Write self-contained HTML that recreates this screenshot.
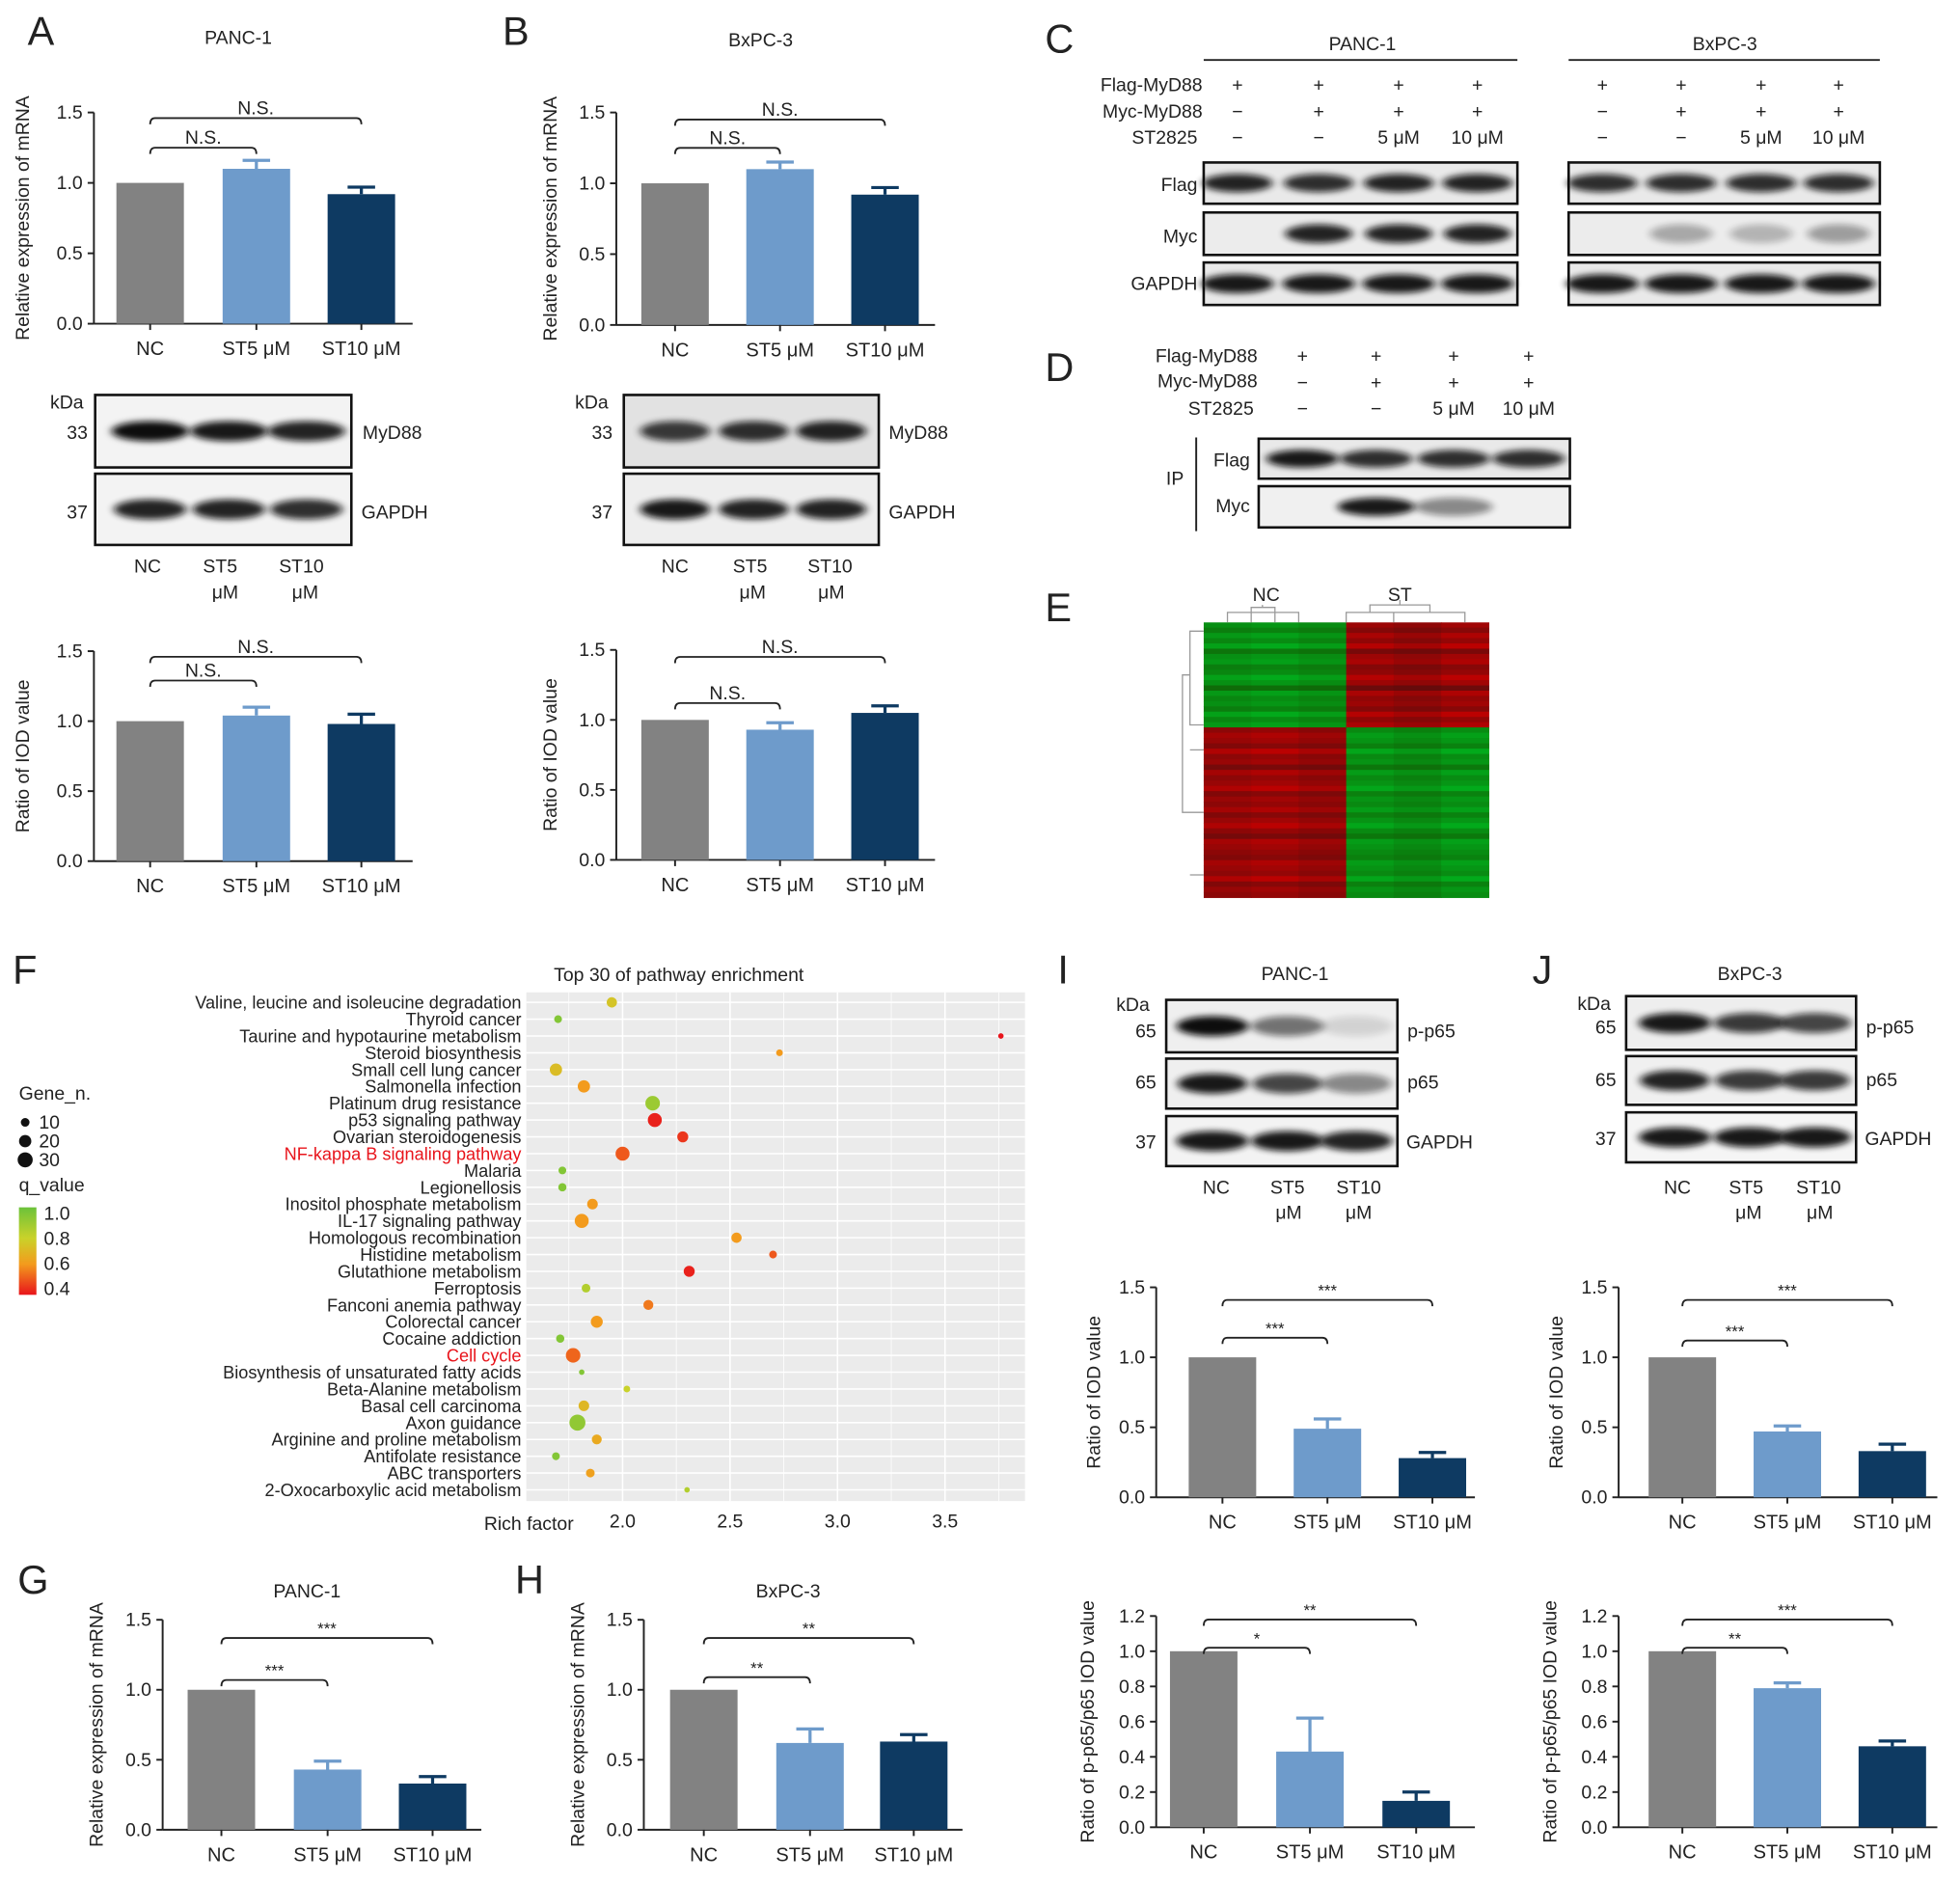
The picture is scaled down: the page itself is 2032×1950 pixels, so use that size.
<!DOCTYPE html>
<html><head><meta charset="utf-8"><style>
html,body{margin:0;padding:0;background:#fff}
svg{display:block}
text{font-family:"Liberation Sans",Arial,sans-serif}
</style></head><body>
<svg id="fig" xmlns="http://www.w3.org/2000/svg" width="2032" height="1950" viewBox="0 0 1568 1505" fill="#222">
<defs>
<filter id="blur" x="-50%" y="-100%" width="200%" height="300%"><feGaussianBlur stdDeviation="3.2 2.4"/></filter>
<linearGradient id="qgrad" x1="0" y1="0" x2="0" y2="1"><stop offset="0" stop-color="#6cc23a"/><stop offset="0.35" stop-color="#c9d22a"/><stop offset="0.65" stop-color="#f39b1d"/><stop offset="1" stop-color="#e8141b"/></linearGradient>
</defs>
<g font-size="32">
<text x="22" y="36">A</text><text x="402" y="36">B</text><text x="836" y="42">C</text><text x="836" y="305">D</text><text x="836" y="497">E</text><text x="10" y="787">F</text><text x="14" y="1275">G</text><text x="412" y="1275">H</text><text x="846" y="787">I</text><text x="1226" y="787">J</text>
</g>
<g id="charts"></g>
</svg>
<script>
const NS='http://www.w3.org/2000/svg';
const svg=document.getElementById('charts');
function mk(tag,attrs,parent,txt){const e=document.createElementNS(NS,tag);for(const k in attrs)e.setAttribute(k,attrs[k]);if(txt!==undefined)e.textContent=txt;(parent||svg).appendChild(e);return e;}

// ===== bar chart data =====
const barCats=['NC','ST5 μM','ST10 μM'];
const barColors=['#828282','#6e9bcb','#0e3a62'];
const aMrnaVals=[1.0,1.10,0.92]; const aMrnaErr=[0,0.06,0.05];
const bMrnaVals=[1.0,1.10,0.92]; const bMrnaErr=[0,0.05,0.05];
const aIodVals=[1.0,1.04,0.98]; const aIodErr=[0,0.06,0.07];
const bIodVals=[1.0,0.93,1.05]; const bIodErr=[0,0.05,0.05];
const gMrnaVals=[1.0,0.43,0.33]; const gMrnaErr=[0,0.06,0.05];
const hMrnaVals=[1.0,0.62,0.63]; const hMrnaErr=[0,0.10,0.05];
const iIodVals=[1.0,0.49,0.28]; const iIodErr=[0,0.07,0.04];
const jIodVals=[1.0,0.47,0.33]; const jIodErr=[0,0.04,0.05];
const iRatioVals=[1.0,0.43,0.15]; const iRatioErr=[0,0.19,0.05];
const jRatioVals=[1.0,0.79,0.46]; const jRatioErr=[0,0.03,0.03];
const ticks15=[0,0.5,1.0,1.5];
const ticks12=[0,0.2,0.4,0.6,0.8,1.0,1.2];

function barChart(name,c){
  const g=mk('g',{});
  
  
  const yS=v=>c.y0-(v/c.max)*(c.y0-c.yt);
  const cx=i=>c.ax+c.off[i];
  const ax=mk('line',{x1:c.ax,y1:c.yt,x2:c.ax,y2:c.y0,stroke:'#222','stroke-width':1.5},g);
  
  
  const xa=mk('line',{x1:c.ax,y1:c.y0,x2:c.ax+c.xlen,y2:c.y0,stroke:'#222','stroke-width':1.5},g);
  
  
  c.ticks.forEach(t=>{
    const y=yS(t);
    mk('line',{x1:c.ax-5,y1:y,x2:c.ax,y2:y,stroke:'#222','stroke-width':1.5},g);
    const tl=mk('text',{x:c.ax-9,y:y+5,'text-anchor':'end','font-size':15},g,t.toFixed(1));
    
    
  });
  c.vals.forEach((v,i)=>{
    const x=cx(i),w=54;
    const r=mk('rect',{x:x-w/2,y:yS(v),width:w,height:yS(0)-yS(v),fill:barColors[i]},g);
    
    
    if(c.err[i]>0){
      const ey=yS(v+c.err[i]);
      const eb=mk('path',{d:`M${x} ${yS(v)}V${ey}M${x-11} ${ey}H${x+11}`,stroke:barColors[i],'stroke-width':2.5,fill:'none'},g);
      
      
    }
    mk('line',{x1:x,y1:c.y0,x2:x,y2:c.y0+5,stroke:'#222','stroke-width':1.5},g);
    const xl=mk('text',{x:x,y:c.y0+25,'text-anchor':'middle','font-size':15.5},g,barCats[i]);
    
    
  });
  c.br.forEach(b=>{
    const y=yS(b[2]),x1=cx(b[0]),x2=cx(b[1]);
    const p=mk('path',{d:`M${x1} ${y+5}Q${x1} ${y} ${x1+4} ${y}H${x2-4}Q${x2} ${y} ${x2} ${y+5}`,stroke:'#222','stroke-width':1.4,fill:'none'},g);
    
    
    const t=mk('text',{x:(x1+x2)/2,y:y-3,'text-anchor':'middle','font-size':b[3]==='N.S.'?15:13},g,b[3]);
    
    
  });
  const yt=mk('text',{transform:`translate(${c.ax-c.tdx},${(c.y0+c.yt)/2}) rotate(-90)`,'text-anchor':'middle','font-size':15},g,c.ytitle);
  
  
  if(c.title){
    const tt=mk('text',{x:c.ax+c.xlen/2-12,y:c.titleY,'text-anchor':'middle','font-size':15},g,c.title);
    
    
  }
}
const OFF=[45,130,214];
barChart('panel-a-mrna-chart',{ax:75,y0:259,yt:90,max:1.5,xlen:255,off:OFF,ticks:ticks15,vals:aMrnaVals,err:aMrnaErr,br:[[0,1,1.25,'N.S.'],[0,2,1.46,'N.S.']],ytitle:'Relative expression of mRNA',tdx:52,title:'PANC-1',titleY:35});
barChart('panel-b-mrna-chart',{ax:493,y0:260,yt:90,max:1.5,xlen:255,off:[47,131,215],ticks:ticks15,vals:bMrnaVals,err:bMrnaErr,br:[[0,1,1.25,'N.S.'],[0,2,1.45,'N.S.']],ytitle:'Relative expression of mRNA',tdx:48,title:'BxPC-3',titleY:37});
barChart('panel-a-iod-chart',{ax:75,y0:689,yt:521,max:1.5,xlen:255,off:OFF,ticks:ticks15,vals:aIodVals,err:aIodErr,br:[[0,1,1.29,'N.S.'],[0,2,1.46,'N.S.']],ytitle:'Ratio of IOD value',tdx:52});
barChart('panel-b-iod-chart',{ax:493,y0:688,yt:520,max:1.5,xlen:255,off:[47,131,215],ticks:ticks15,vals:bIodVals,err:bIodErr,br:[[0,1,1.12,'N.S.'],[0,2,1.45,'N.S.']],ytitle:'Ratio of IOD value',tdx:48});
barChart('panel-g-mrna-chart',{ax:130,y0:1464,yt:1296,max:1.5,xlen:255,off:[47,132,216],ticks:ticks15,vals:gMrnaVals,err:gMrnaErr,br:[[0,1,1.07,'***'],[0,2,1.37,'***']],ytitle:'Relative expression of mRNA',tdx:48,title:'PANC-1',titleY:1278});
barChart('panel-h-mrna-chart',{ax:515,y0:1464,yt:1296,max:1.5,xlen:255,off:[48,133,216],ticks:ticks15,vals:hMrnaVals,err:hMrnaErr,br:[[0,1,1.09,'**'],[0,2,1.37,'**']],ytitle:'Relative expression of mRNA',tdx:48,title:'BxPC-3',titleY:1278});
barChart('panel-i-iod-chart',{ax:925,y0:1198,yt:1030,max:1.5,xlen:255,off:[53,137,221],ticks:ticks15,vals:iIodVals,err:iIodErr,br:[[0,1,1.14,'***'],[0,2,1.41,'***']],ytitle:'Ratio of IOD value',tdx:45});
barChart('panel-j-iod-chart',{ax:1295,y0:1198,yt:1030,max:1.5,xlen:255,off:[51,135,219],ticks:ticks15,vals:jIodVals,err:jIodErr,br:[[0,1,1.12,'***'],[0,2,1.41,'***']],ytitle:'Ratio of IOD value',tdx:45});
barChart('panel-i-ratio-chart',{ax:925,y0:1462,yt:1293,max:1.2,xlen:255,off:[38,123,208],ticks:ticks12,vals:iRatioVals,err:iRatioErr,br:[[0,1,1.02,'*'],[0,2,1.18,'**']],ytitle:'Ratio of p-p65/p65 IOD value',tdx:50});
barChart('panel-j-ratio-chart',{ax:1295,y0:1462,yt:1293,max:1.2,xlen:255,off:[51,135,219],ticks:ticks12,vals:jRatioVals,err:jRatioErr,br:[[0,1,1.02,'**'],[0,2,1.18,'***']],ytitle:'Ratio of p-p65/p65 IOD value',tdx:50});

// ===== blots =====
function txt(x,y,s,size,anchor,name,fill){const t=mk('text',{x:x,y:y,'font-size':size||15,'text-anchor':anchor||'start',fill:fill||'#222'},svg,s);

return t;}
function blot(name,x,y,w,h,lanes,intens,bw,bg){
  const g=mk('g',{});
  
  
  const r=mk('rect',{x:x,y:y,width:w,height:h,fill:bg||'#e9e9e9',stroke:'#111','stroke-width':2},g);
  
  
  lanes.forEach((cx,i)=>{if(intens[i]<=0)return;
    const e=mk('ellipse',{cx:cx,cy:y+h/2,rx:(bw||24)+3,ry:Math.min(h*0.22,8),fill:'#0a0a0a',opacity:intens[i],filter:'url(#blur)'},g);
    
    
  });
}
// A
txt(40,327,'kDa',15,'start','kda-label');txt(70,351,'33',15,'end');txt(70,415,'37',15,'end');
blot('panel-a-myd88-blot',76,316,205,58,[120,183,245],[1,0.95,0.9],28,'#f3f3f3');
blot('panel-a-gapdh-blot',76,379,205,57,[120,183,245],[0.9,0.9,0.85],26,'#f3f3f3');
txt(290,351,'MyD88');txt(289,415,'GAPDH');
txt(118,458,'NC',15,'middle');txt(176,458,'ST5',15,'middle');txt(180,479,'μM',15,'middle');txt(241,458,'ST10',15,'middle');txt(244,479,'μM',15,'middle');
// B
txt(460,327,'kDa');txt(490,351,'33',15,'end');txt(490,415,'37',15,'end');
blot('panel-b-myd88-blot',499,316,204,58,[540,603,665],[0.8,0.85,0.9],25,'#e2e2e2');
blot('panel-b-gapdh-blot',499,379,204,57,[540,603,665],[0.95,0.9,0.9],25,'#eeeeee');
txt(711,351,'MyD88');txt(711,415,'GAPDH');
txt(540,458,'NC',15,'middle');txt(600,458,'ST5',15,'middle');txt(602,479,'μM',15,'middle');txt(664,458,'ST10',15,'middle');txt(665,479,'μM',15,'middle');
// C
txt(1090,40,'PANC-1',15,'middle');txt(1380,40,'BxPC-3',15,'middle');
mk('line',{x1:963,y1:48,x2:1214,y2:48,stroke:'#222','stroke-width':1.5});
mk('line',{x1:1255,y1:48,x2:1504,y2:48,stroke:'#222','stroke-width':1.5});
txt(962,73,'Flag-MyD88',15,'end');txt(962,94,'Myc-MyD88',15,'end');txt(958,115,'ST2825',15,'end');
const cSigns=[['+','+','+','+'],['−','+','+','+'],['−','−','5 μM','10 μM']];
[[990,1055,1119,1182],[1282,1345,1409,1471]].forEach(L=>{cSigns.forEach((row,r)=>row.forEach((s,i)=>txt(L[i],73+21*r,s,15,'middle','treatment-sign')));});
txt(958,153,'Flag',15,'end');txt(958,194,'Myc',15,'end');txt(958,232,'GAPDH',15,'end');
blot('panel-c-panc-flag',963,130,251,33,[990,1055,1119,1182],[0.9,0.85,0.9,0.9],25);
blot('panel-c-panc-myc',963,170,251,34,[990,1055,1119,1182],[0,0.9,0.9,0.9],24,'#ececec');
blot('panel-c-panc-gapdh',963,210,251,34,[990,1055,1119,1182],[0.95,0.95,0.95,0.95],26);
blot('panel-c-bx-flag',1255,130,249,33,[1282,1345,1409,1471],[0.85,0.85,0.85,0.85],25);
blot('panel-c-bx-myc',1255,170,249,34,[1282,1345,1409,1471],[0,0.3,0.25,0.35],22,'#ececec');
blot('panel-c-bx-gapdh',1255,210,249,34,[1282,1345,1409,1471],[0.95,0.95,0.95,0.95],26);
// D
txt(1006,290,'Flag-MyD88',15,'end');txt(1006,310,'Myc-MyD88',15,'end');txt(1003,332,'ST2825',15,'end');
const dL=[1042,1101,1163,1223];
cSigns.forEach((row,r)=>row.forEach((s,i)=>txt(dL[i],290+21*r,s,15,'middle','treatment-sign')));
txt(940,388,'IP',15,'middle');mk('line',{x1:957,y1:350,x2:957,y2:425,stroke:'#222','stroke-width':1.5});
txt(1000,373,'Flag',15,'end');txt(1000,410,'Myc',15,'end');
blot('panel-d-flag',1007,351,249,32,dL,[0.95,0.85,0.85,0.85],26);
blot('panel-d-myc',1007,389,249,33,dL,[0,0.95,0.45,0],28,'#f0f0f0');
// I
txt(1036,784,'PANC-1',15,'middle');
txt(893,809,'kDa');txt(925,830,'65',15,'end');txt(925,871,'65',15,'end');txt(925,919,'37',15,'end');
blot('panel-i-pp65',933,800,185,42,[970,1030,1085],[1,0.55,0.12],26,'#efefef');
blot('panel-i-p65',933,847,185,40,[970,1030,1085],[0.95,0.75,0.45],25,'#efefef');
blot('panel-i-gapdh',933,893,185,40,[970,1030,1085],[0.95,0.95,0.9],26,'#f3f3f3');
txt(1126,830,'p-p65');txt(1126,871,'p65');txt(1125,919,'GAPDH');
txt(973,955,'NC',15,'middle');txt(1030,955,'ST5',15,'middle');txt(1031,975,'μM',15,'middle');txt(1087,955,'ST10',15,'middle');txt(1087,975,'μM',15,'middle');
// J
txt(1400,784,'BxPC-3',15,'middle');
txt(1262,808,'kDa');txt(1293,827,'65',15,'end');txt(1293,869,'65',15,'end');txt(1293,916,'37',15,'end');
blot('panel-j-pp65',1301,797,184,43,[1340,1400,1452],[0.95,0.8,0.75],26,'#eeeeee');
blot('panel-j-p65',1301,845,184,39,[1340,1400,1452],[0.9,0.8,0.8],25,'#f0f0f0');
blot('panel-j-gapdh',1301,890,184,40,[1340,1400,1452],[0.95,0.95,0.95],26,'#f5f5f5');
txt(1493,827,'p-p65');txt(1493,869,'p65');txt(1492,916,'GAPDH');
txt(1342,955,'NC',15,'middle');txt(1397,955,'ST5',15,'middle');txt(1399,975,'μM',15,'middle');txt(1455,955,'ST10',15,'middle');txt(1456,975,'μM',15,'middle');

// ===== E heatmap =====
const hmTopRows=[0.7,0.5,0.8,0.6,0.9,0.4,0.7,0.8,0.5,0.6,0.9,0.7,0.3,0.8,0.6,0.7,0.5,0.9,0.6,0.8];
const hmBotRows=[0.6,0.8,0.7,0.5,0.9,0.6,0.7,0.4,0.8,0.6,0.7,0.9,0.5,0.7,0.6,0.8,0.5,0.7,0.9,0.6,0.4,0.8,0.7,0.6,0.5,0.8,0.7,0.6,0.9,0.5,0.7,0.6];
const hmColMod=[0.9,1.0,0.85,0.95,0.8,1.0];
(function(){
  const g=mk('g',{});
  
  
  const x0=963,cw=38,y0=498,rhT=84/hmTopRows.length,rhB=136/hmBotRows.length;
  const col=(v,green)=>green?`rgb(${Math.round(20*(1-v))},${Math.round(80+100*v)},${Math.round(30*v)})`:`rgb(${Math.round(70+130*v)},${Math.round(15*(1-v))},${Math.round(15*(1-v))})`;
  hmTopRows.forEach((v,r)=>hmColMod.forEach((m,c)=>{const cell=mk('rect',{x:x0+c*cw,y:y0+r*rhT,width:cw+0.5,height:rhT+0.5,fill:col(v*m,c<3)},g);
    
    }));
  hmBotRows.forEach((v,r)=>hmColMod.forEach((m,c)=>{const cell=mk('rect',{x:x0+c*cw,y:y0+84+r*rhB,width:cw+0.5,height:rhB+0.5,fill:col(v*m,c>=3)},g);
    
    }));
  mk('path',{d:'M982 498V490H1039V498M1001 490V486H1020V490M1010 486V484M1001 498V490M1020 498V490M1077 498V490H1172V498M1115 498V490M1096 490V484H1144V490M1120 484V480',stroke:'#999',fill:'none','stroke-width':1},g);
  mk('path',{d:'M963 505H952V580H963M952 540H946V650H952M952 600H963M952 700H963M963 650H952',stroke:'#999',fill:'none','stroke-width':1},g);
  txt(1013,481,'NC',15,'middle');txt(1120,481,'ST',15,'middle');
})();

// ===== F dot plot =====
const pathways=['Valine, leucine and isoleucine degradation','Thyroid cancer','Taurine and hypotaurine metabolism','Steroid biosynthesis','Small cell lung cancer','Salmonella infection','Platinum drug resistance','p53 signaling pathway','Ovarian steroidogenesis','NF-kappa B signaling pathway','Malaria','Legionellosis','Inositol phosphate metabolism','IL-17 signaling pathway','Homologous recombination','Histidine metabolism','Glutathione metabolism','Ferroptosis','Fanconi anemia pathway','Colorectal cancer','Cocaine addiction','Cell cycle','Biosynthesis of unsaturated fatty acids','Beta-Alanine metabolism','Basal cell carcinoma','Axon guidance','Arginine and proline metabolism','Antifolate resistance','ABC transporters','2-Oxocarboxylic acid metabolism'];
const richFactor=[1.95,1.70,3.76,2.73,1.69,1.82,2.14,2.15,2.28,2.00,1.72,1.72,1.86,1.81,2.53,2.70,2.31,1.83,2.12,1.88,1.71,1.77,1.81,2.02,1.82,1.79,1.88,1.69,1.85,2.30];
const geneN=[14,8,4,6,20,20,28,26,16,26,8,9,15,26,14,8,16,10,13,19,9,28,4,6,15,34,13,8,10,4];
const qValue=[0.75,0.95,0.4,0.6,0.72,0.6,0.9,0.42,0.45,0.5,0.95,0.95,0.6,0.6,0.6,0.5,0.42,0.85,0.55,0.6,0.95,0.52,0.95,0.8,0.7,0.92,0.65,0.95,0.62,0.85];
const highlighted=['NF-kappa B signaling pathway','Cell cycle'];
const rfTicks=[2.0,2.5,3.0,3.5];
(function(){
  const g=mk('g',{});
  
  
  const X=rf=>498+(rf-2)*172, Y=i=>802+i*13.45;
  const bg=mk('rect',{x:421,y:794,width:399,height:407,fill:'#ebebeb'},g);
  
  
  pathways.forEach((p,i)=>mk('line',{x1:421,x2:820,y1:Y(i),y2:Y(i),stroke:'#fff','stroke-width':1.2},g));
  for(let v=1.75;v<=3.76;v+=0.25)mk('line',{x1:X(v),x2:X(v),y1:794,y2:1201,stroke:'#fff','stroke-width':v*4%2===0?1.2:0.6},g);
  const qc=q=>{const stops=[[0.4,[232,20,27]],[0.6,[243,155,29]],[0.8,[201,210,42]],[1.0,[108,194,58]]];q=Math.max(0.4,Math.min(1,q));for(let k=0;k<3;k++){const a=stops[k],b=stops[k+1];if(q<=b[0]){const t=(q-a[0])/(b[0]-a[0]);return 'rgb('+a[1].map((c,j)=>Math.round(c+(b[1][j]-c)*t)).join(',')+')';}}};
  pathways.forEach((p,i)=>{
    const l=mk('text',{x:417,y:Y(i)+5,'text-anchor':'end','font-size':14,fill:highlighted.includes(p)?'#e8141b':'#222'},g,p);
    
    
    const d=mk('circle',{cx:X(richFactor[i]),cy:Y(i),r:1.1*Math.sqrt(geneN[i]),fill:qc(qValue[i])},g);
    
    
  });
  rfTicks.forEach(t=>{const tl=mk('text',{x:X(t),y:1222,'text-anchor':'middle','font-size':15},g,t.toFixed(1));
    
    });
  txt(423,1224,'Rich factor',15,'middle','x-axis-title');
  txt(543,785,'Top 30 of pathway enrichment',15,'middle','chart-title');
  txt(15,880,'Gene_n.',15,'start','legend-title');
  [[10,898],[20,913],[30,928]].forEach(s=>{const c=mk('circle',{cx:20,cy:s[1],r:1.1*Math.sqrt(s[0]),fill:'#111'},g);
    
    
    txt(31,s[1]+5,String(s[0]),15,'start','legend-size-label');});
  txt(15,953,'q_value',15,'start','legend-title');
  const gb=mk('rect',{x:15,y:966,width:14,height:70,fill:'url(#qgrad)'},g);
  
  
  ['1.0','0.8','0.6','0.4'].forEach((s,k)=>txt(35,976+k*20,s,15,'start','colorbar-label'));
})();
</script>
</body></html>
